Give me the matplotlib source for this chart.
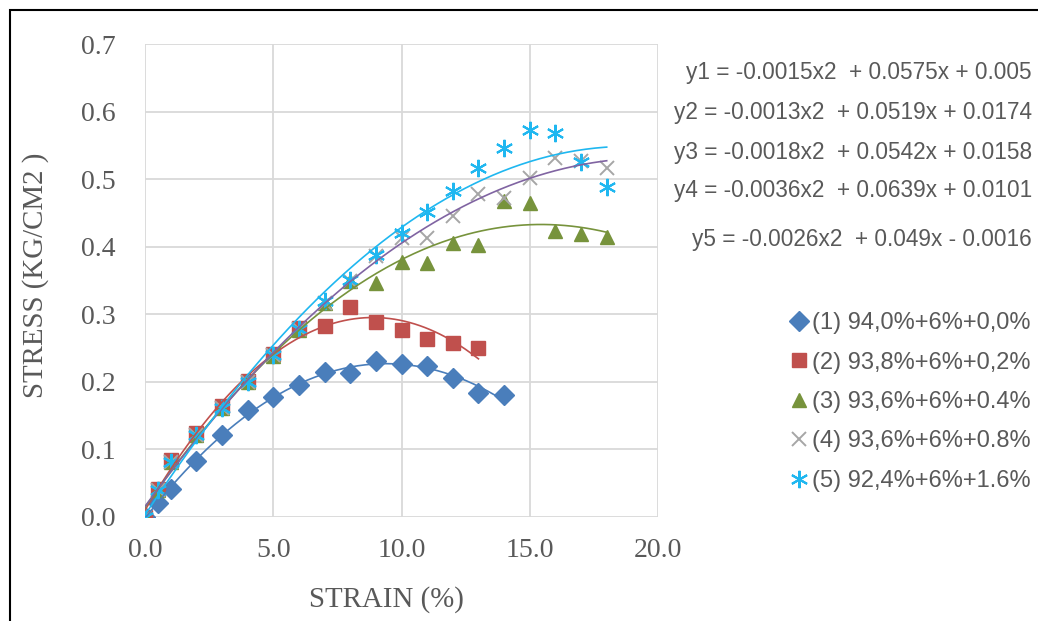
import matplotlib
matplotlib.use("Agg")
import matplotlib.pyplot as plt
from matplotlib.patches import Rectangle
import numpy as np

plt.rcParams.update({"font.family": "Liberation Serif"})

TEXT = "#595959"
GRID = "#D9D9D9"

# strain (%) per series
x_short1 = [0, 0.5, 1, 2, 3, 4, 5, 6, 7, 8, 9, 10, 11, 12, 13, 14]
x_short2 = [0, 0.5, 1, 2, 3, 4, 5, 6, 7, 8, 9, 10, 11, 12, 13]
x_long = [0, 0.5, 1, 2, 3, 4, 5, 6, 7, 8, 9, 10, 11, 12, 13, 14, 15, 16, 17, 18]

# stress (kg/cm2)
s1 = [0, 0.020, 0.042, 0.083, 0.121, 0.158, 0.178, 0.196, 0.215, 0.213,
      0.231, 0.226, 0.224, 0.205, 0.184, 0.181]
s2 = [0, 0.042, 0.084, 0.124, 0.164, 0.202, 0.241, 0.279, 0.282, 0.311,
      0.288, 0.277, 0.263, 0.258, 0.250]
s3 = [0, 0.040, 0.082, 0.122, 0.162, 0.200, 0.238, 0.277, 0.316, 0.349,
      0.346, 0.377, 0.376, 0.406, 0.403, 0.467, 0.464, 0.423, 0.419, 0.415]
s4 = [0, 0.040, 0.082, 0.122, 0.162, 0.200, 0.240, 0.278, 0.316, 0.350,
      0.386, 0.413, 0.413, 0.446, 0.478, 0.472, 0.502, 0.531, 0.527, 0.517]
s5 = [0, 0.040, 0.082, 0.122, 0.162, 0.200, 0.240, 0.278, 0.319, 0.351,
      0.387, 0.420, 0.452, 0.483, 0.516, 0.546, 0.572, 0.568, 0.526, 0.488]

labels = ["(1) 94,0%+6%+0,0%", "(2) 93,8%+6%+0,2%", "(3) 93,6%+6%+0.4%",
          "(4) 93,6%+6%+0.8%", "(5) 92,4%+6%+1.6%"]

equations = [
    "y1 = -0.0015x2  + 0.0575x + 0.005",
    "y2 = -0.0013x2  + 0.0519x + 0.0174",
    "y3 = -0.0018x2  + 0.0542x + 0.0158",
    "y4 = -0.0036x2  + 0.0639x + 0.0101",
    "y5 = -0.0026x2  + 0.049x - 0.0016",
]

x_ticks = [0, 5, 10, 15, 20]
y_ticks = [0, 0.1, 0.2, 0.3, 0.4, 0.5, 0.6, 0.7]

series = [
    (x_short1, s1, dict(marker="D", ms=10.5, mfc="#4A7EBB", mec="#4A7EBB"), "#4A7EBB"),
    (x_short2, s2, dict(marker="s", ms=9.5, mfc="#C0504D", mec="#C0504D"), "#C0504D"),
    (x_long, s3, dict(marker="^", ms=10.5, mfc="#77933C", mec="#77933C"), "#77933C"),
    (x_long, s4, dict(marker="x", ms=10, mec="#A6A6A6", mew=1.4), "#8064A2"),
    (x_long, s5, dict(marker=(6, 2, 0), ms=12.5, mec="#1FB7F0", mew=1.5), "#1FB7F0"),
]

W, H = 1038, 621
fig = plt.figure(figsize=(W / 100, H / 100), dpi=100)
ax = fig.add_axes([145 / W, 1 - 517 / H, 513 / W, 473 / H])

handles = []
for xs, ys, mk, lc in series:
    h, = ax.plot(xs, ys, ls="none", zorder=3, **mk)
    handles.append(h)
    # Excel-style 2nd order polynomial trendline
    coef = np.polyfit(xs, ys, 2)
    xf = np.linspace(min(xs), max(xs), 200)
    ax.plot(xf, np.polyval(coef, xf), color=lc, lw=1.2, zorder=4)

ax.set_xlim(0, 20)
ax.set_ylim(0, 0.7)
ax.set_xticks(x_ticks)
ax.set_yticks(y_ticks)
ax.set_xticklabels([f"{v:.1f}" for v in x_ticks])
ax.set_yticklabels([f"{v:.1f}" for v in y_ticks])
ax.tick_params(length=0, labelsize=20, colors=TEXT)
ax.tick_params(axis="y", pad=21)
ax.tick_params(axis="x", pad=15)
for sp in ax.spines.values():
    sp.set_visible(False)
ax.grid(True, color=GRID, lw=1.3)
ax.set_axisbelow(True)

fig.text(36 / W, 1 - 275 / H, "STRESS (KG/CM2 )", rotation=90, ha="center",
         va="center", fontsize=20.8, color=TEXT)
fig.text(386 / W, 1 - 600 / H, "STRAIN (%)", ha="center", va="center",
         fontsize=20.8, color=TEXT)

eq_y = [72, 112, 152, 191, 240]
for py, eq in zip(eq_y, equations):
    fig.text(1032 / W, 1 - py / H, eq, ha="right", va="center", fontsize=16.3,
             color=TEXT, family="Liberation Sans")

leg = fig.legend(handles, labels, loc="center left",
                 bbox_to_anchor=(791 / W, 1 - 402 / H), frameon=False,
                 prop={"family": "Liberation Sans", "size": 17},
                 handlelength=0.7, handletextpad=0.2, labelspacing=0.74,
                 borderpad=0, borderaxespad=0)
for t in leg.get_texts():
    t.set_color(TEXT)

fig.patches.append(Rectangle((9.5 / W, -0.1), 1.2, 1 - 9.5 / H + 0.1,
                             transform=fig.transFigure, fill=False,
                             ec="black", lw=1.5))

fig.savefig("out.png", dpi=100)
